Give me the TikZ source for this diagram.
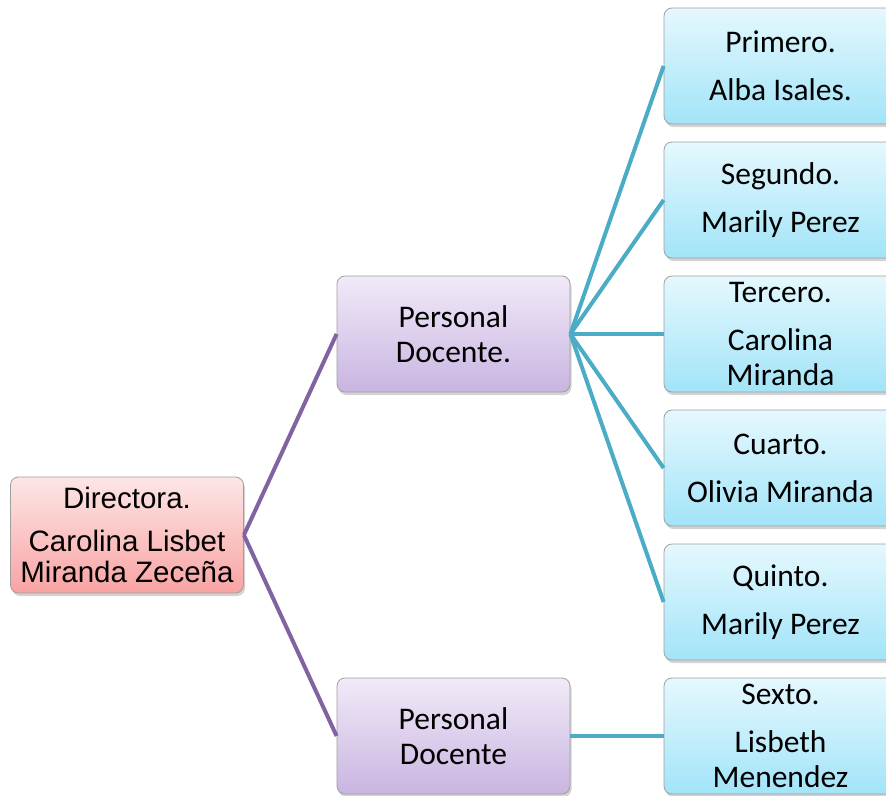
\documentclass[tikz,border=0pt]{standalone}
\usepackage{fontspec}
\setmainfont{Carlito}
\newfontfamily\arialfont{Liberation Sans}
\usetikzlibrary{shadows}
\definecolor{rootTop}{HTML}{FDE6E6}
\definecolor{rootBot}{HTML}{F9A3A3}
\definecolor{staffTop}{HTML}{F1EAF8}
\definecolor{staffBot}{HTML}{C9B5E1}
\definecolor{gradeTop}{HTML}{E5F8FE}
\definecolor{gradeBot}{HTML}{A2E4F8}
\definecolor{purpleline}{HTML}{8064A2}
\definecolor{cyanline}{HTML}{4BACC6}
\begin{document}
\begin{tikzpicture}[x=1pt,y=-1pt,
  box/.style={rectangle, rounded corners=8pt, draw=gray!75, line width=0.8pt,
    minimum width=233pt, minimum height=116pt, align=center, inner sep=2pt,
    font=\fontsize{31.5}{35}\selectfont,
    drop shadow={opacity=0.35, shadow xshift=1.5pt, shadow yshift=-3pt}},
  rootbox/.style={box, top color=rootTop, bottom color=rootBot,
    font=\arialfont\fontsize{29.5}{31}\selectfont},
  staffbox/.style={box, top color=staffTop, bottom color=staffBot},
  gradebox/.style={box, top color=gradeTop, bottom color=gradeBot},
  staffline/.style={purpleline, line width=4pt},
  gradeline/.style={cyanline, line width=4pt}]
\useasboundingbox (0,0) rectangle (886,795);
\clip (0,0) rectangle (886,795);
% x, y in pixels
\node[rootbox] (dir) at (127,535) {Directora.\\[12pt]Carolina Lisbet\\Miranda Zeceña};
\node[staffbox] (pd1) at (453.5,334) {Personal\\Docente.};
\node[staffbox] (pd2) at (453.5,736) {Personal\\Docente};
\node[gradebox] (g1) at (780.5,66) {Primero.\\[13pt]Alba Isales.};
\node[gradebox] (g2) at (780.5,200) {Segundo.\\[13pt]Marily Perez};
\node[gradebox] (g3) at (780.5,334) {Tercero.\\[13pt]Carolina\\Miranda};
\node[gradebox] (g4) at (780.5,468) {Cuarto.\\[13pt]Olivia Miranda};
\node[gradebox] (g5) at (780.5,602) {Quinto.\\[13pt]Marily Perez};
\node[gradebox] (g6) at (780.5,736) {Sexto.\\[13pt]Lisbeth\\Menendez};
\draw[staffline] (dir.east) -- (pd1.west);
\draw[staffline] (dir.east) -- (pd2.west);
\foreach \g in {g1,g2,g3,g4,g5}
  \draw[gradeline] (pd1.east) -- (\g.west);
\draw[gradeline] (pd2.east) -- (g6.west);
\end{tikzpicture}
\end{document}
